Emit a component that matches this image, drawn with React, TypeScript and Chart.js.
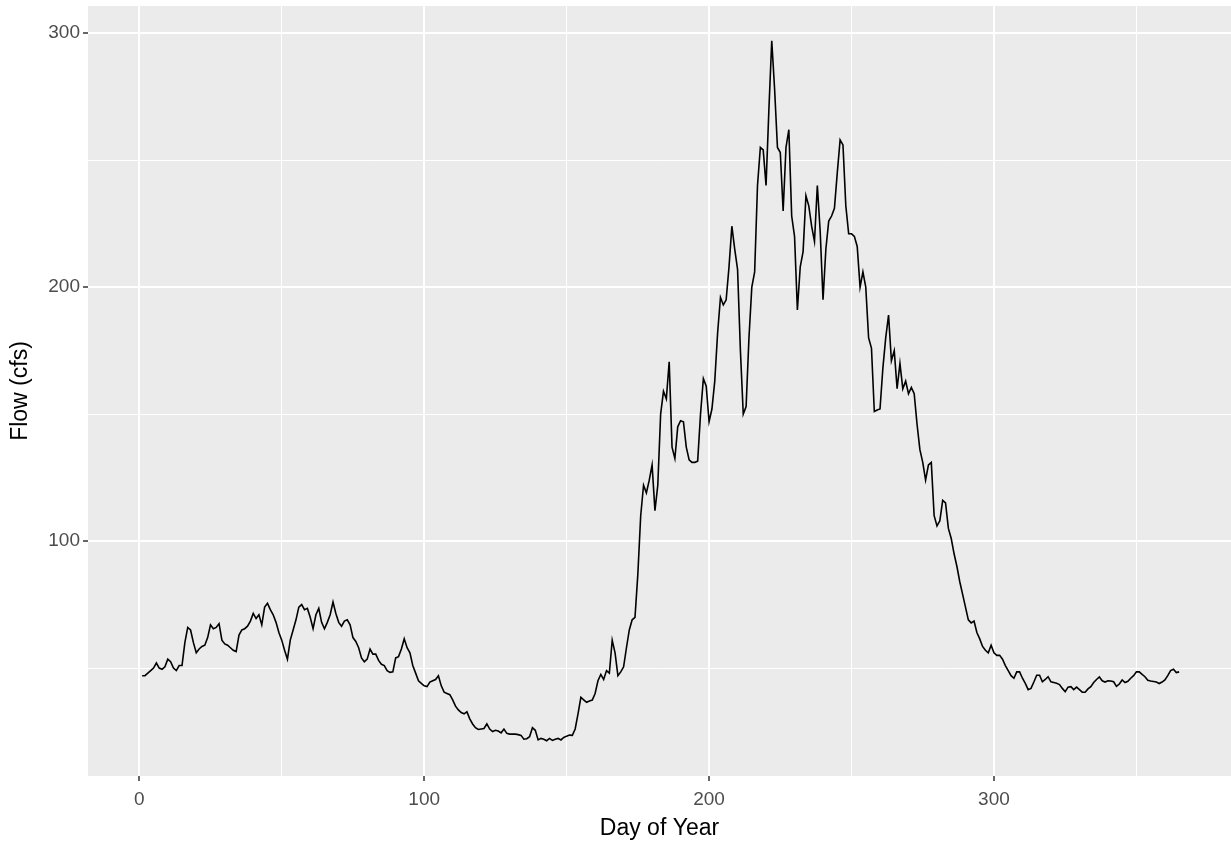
import React, { useEffect, useRef } from "react";
import { Chart, registerables } from "chart.js";

Chart.register(...registerables);

const flow: number[] = [
  47, 47, 48, 49, 50, 52, 50, 49.5, 50.5, 53.5,
  52.5, 50, 49, 51, 51, 60, 66, 65, 60, 56,
  57.5, 58.5, 59, 62, 67, 65.5, 66, 67.5, 61, 59.5,
  59, 58, 57, 56.5, 63, 65, 65.5, 66.5, 68.5, 71.5,
  69.5, 71, 67, 74, 75.5, 73, 71, 68, 64, 61,
  57, 53.5, 61, 65, 69, 74, 75, 73, 73.5, 70,
  65.5, 71, 73.5, 68, 65.5, 68, 71, 76, 71.5, 68,
  66.5, 68.5, 69, 67, 62, 60.5, 58, 54, 52.5, 53.5,
  57.5, 55.5, 55.5, 53, 51.5, 51, 49, 48.3, 48.5, 54,
  54.5, 57.5, 61.5, 58, 56, 51, 48, 45, 44, 43,
  42.7, 44.5, 45, 45.5, 47, 43, 40.5, 40, 39.5, 37.5,
  35, 33.5, 32.5, 32, 32.8, 30, 28, 26.5, 25.8, 26,
  26.2, 28, 26, 25, 25.5, 25.2, 24.5, 26, 24.3, 24,
  24, 24, 23.8, 23.5, 22, 22.2, 23, 26.5, 25.5, 21.7,
  22.3, 22, 21.4, 22.3, 21.5, 22, 22.3, 21.7, 22.7, 23.2,
  23.6, 23.5, 26, 32, 38.5, 37.5, 36.5, 37, 37.4, 40,
  45, 47.5, 45.5, 49, 48, 61, 56, 47, 48.5, 50.5,
  58, 65, 69, 70, 87, 110, 122, 119, 124, 130,
  112, 122, 150, 159, 156, 170.6, 137, 132.5, 145, 147.4,
  147, 137, 132, 131, 131, 131.5, 150, 164, 161, 147,
  152, 163, 182, 196, 193, 195, 208, 224, 215, 207,
  175, 150, 153, 180, 200, 206, 240, 255, 254, 240,
  270, 297, 278, 255, 253, 230, 255, 262, 228, 220,
  191, 208, 214, 236, 232, 224, 218, 240, 222, 195,
  215, 226, 228, 231, 245, 258, 256, 232, 221, 221,
  220, 216, 200, 206, 200, 180, 176, 151, 151.6, 152,
  168, 180, 189, 171, 175, 160, 170, 160, 163, 158,
  160.5, 158, 146, 136, 131, 124, 130, 131, 110, 106,
  108, 116, 115, 105, 101, 95, 90, 84, 79, 74,
  69, 67.8, 68.5, 64, 61.5, 58.5, 57, 56, 59, 56,
  55, 55, 53.5, 51, 49, 47, 46, 48.5, 48.5, 46,
  44, 41.5, 42, 44.5, 47.2, 47.2, 44.6, 45.5, 46.6, 44.6,
  44.3, 44, 43.5, 42, 40.7, 42.5, 42.7, 41.5, 42.5, 41.5,
  40.5, 40.5, 41.8, 42.7, 44.3, 45.5, 46.5, 45, 44.5, 45,
  44.9, 44.6, 42.8, 43.7, 45.3, 44.3, 44.8, 46, 47, 48.5,
  48.5, 47.5, 46.6, 45.2, 44.9, 44.7, 44.5, 43.9, 44.5, 45.3,
  47, 49, 49.5, 48.2, 48.5,
];

const days: number[] = flow.map((_, i) => i + 1);

const xTicks: number[] = [0, 50, 100, 150, 200, 250, 300, 350];
const yTicks: number[] = [50, 100, 150, 200, 250, 300];

const xTitle = "Day of Year";
const yTitle = "Flow (cfs)";

const FONT = "'Liberation Sans', Arial, sans-serif";

export default function App() {
  const ref = useRef<HTMLCanvasElement | null>(null);

  useEffect(() => {
    document.body.style.margin = "0";
    const canvas = ref.current;
    if (!canvas) return;

    const panelBg = {
      id: "panelBg",
      beforeDraw(chart: any) {
        const { ctx, chartArea } = chart;
        ctx.save();
        ctx.fillStyle = "#EBEBEB";
        ctx.fillRect(chartArea.left, chartArea.top, chartArea.right - chartArea.left, chartArea.bottom - chartArea.top);
        ctx.restore();
      },
    };

    const titles = {
      id: "axisTitles",
      afterDraw(chart: any) {
        const { ctx, chartArea } = chart;
        ctx.save();
        ctx.fillStyle = "#000000";
        ctx.font = `23px ${FONT}`;
        ctx.textAlign = "center";
        ctx.textBaseline = "middle";
        ctx.fillText(xTitle, (chartArea.left + chartArea.right) / 2, 829);
        ctx.translate(21, (chartArea.top + chartArea.bottom) / 2);
        ctx.rotate(-Math.PI / 2);
        ctx.fillText(yTitle, 0, 0);
        ctx.restore();
      },
    };

    const chart = new Chart(canvas, {
      type: "line",
      data: {
        datasets: [
          {
            data: days.map((d, i) => ({ x: d, y: flow[i] })),
            borderColor: "#000000",
            borderWidth: 1.6,
            pointRadius: 0,
            tension: 0,
            fill: false,
          },
        ],
      },
      options: {
        animation: false,
        responsive: false,
        devicePixelRatio: 1,
        layout: { padding: { top: 6, right: 0, left: 0, bottom: 0 } },
        plugins: { legend: { display: false }, tooltip: { enabled: false } },
        scales: {
          x: {
            type: "linear",
            min: -18,
            max: 383.2,
            afterBuildTicks: (scale: any) => {
              scale.ticks = xTicks.map((v) => ({ value: v }));
            },
            afterFit: (scale: any) => {
              scale.height = 71;
              scale.paddingLeft = 0;
              scale.paddingRight = 0;
            },
            border: { display: false },
            grid: {
              color: "#FFFFFF",
              lineWidth: (c: any) => (c.tick && c.tick.value % 100 === 0 ? 2 : 1),
              tickColor: (c: any) => (c.tick && c.tick.value % 100 === 0 ? "#333333" : "rgba(0,0,0,0)"),
              tickLength: 5,
              tickWidth: 1.5,
            },
            ticks: {
              autoSkip: false,
              maxRotation: 0,
              padding: 7,
              color: "#4D4D4D",
              font: { family: FONT, size: 19 },
              callback: (v: any) => (Number(v) % 100 === 0 ? String(v) : ""),
            },
          },
          y: {
            type: "linear",
            min: 7.5,
            max: 310.7,
            afterBuildTicks: (scale: any) => {
              scale.ticks = yTicks.map((v) => ({ value: v }));
            },
            afterFit: (scale: any) => {
              scale.width = 88;
              scale.paddingTop = 0;
              scale.paddingBottom = 0;
            },
            border: { display: false },
            grid: {
              color: "#FFFFFF",
              lineWidth: (c: any) => (c.tick && c.tick.value % 100 === 0 ? 2 : 1),
              tickColor: (c: any) => (c.tick && c.tick.value % 100 === 0 ? "#333333" : "rgba(0,0,0,0)"),
              tickLength: 5,
              tickWidth: 1.5,
            },
            ticks: {
              autoSkip: false,
              padding: 3,
              color: "#4D4D4D",
              font: { family: FONT, size: 19 },
              callback: (v: any) => (Number(v) % 100 === 0 ? String(v) : ""),
            },
          },
        },
      },
      plugins: [panelBg, titles],
    });

    return () => chart.destroy();
  }, []);

  return (
    <div style={{ position: "absolute", left: 0, top: 0, width: 1231, height: 847 }}>
      <canvas ref={ref} width={1231} height={847} style={{ display: "block" }} />
    </div>
  );
}
